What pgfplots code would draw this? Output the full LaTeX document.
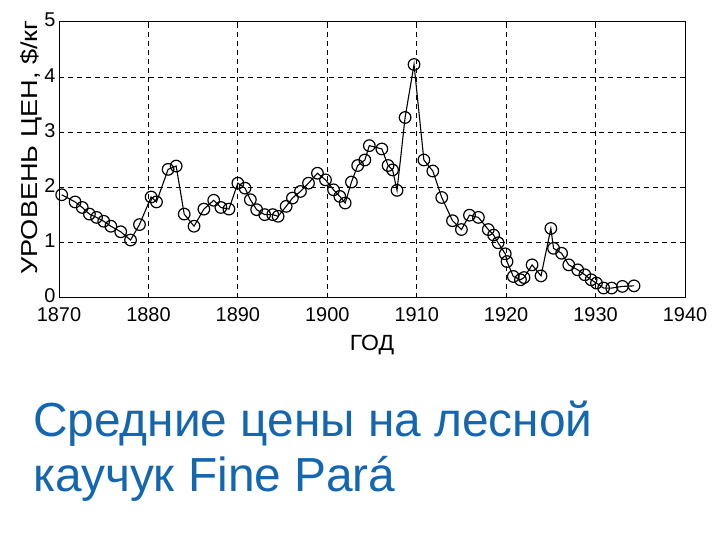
\documentclass[border=0pt]{standalone}
\usepackage{fontspec}
\setmainfont{Liberation Sans}
\usepackage{pgfplots}
\pgfplotsset{compat=1.18}
\definecolor{titleblue}{HTML}{1366B0}

\begin{document}
\begin{tikzpicture}[x=1bp,y=1bp]
\path[use as bounding box] (0,0) rectangle (720,540);
\begin{axis}[
  at={(59bp,242bp)}, anchor=south west,
  scale only axis, width=626bp, height=276bp,
  xmin=1870, xmax=1940, ymin=0, ymax=5,
  xtick={1870,1880,...,1940}, ytick={0,...,5},
  grid=major,
  major grid style={black, line width=1bp, dash pattern=on 5bp off 4bp},
  axis line style={black, line width=1bp},
  tick style={black, line width=1bp}, tick align=inside, major tick length=5bp,
  xticklabel style={/pgf/number format/1000 sep={}, yshift=-6bp},
  yticklabel style={yshift=2bp},
  /pgf/number format/assume math mode=true,
  ticklabel style={font=\fontsize{20}{20}\selectfont},
  xlabel={\scalebox{1.1}[1.05]{ГОД}},
  ylabel={\scalebox{1.3}[1.1]{УРОВЕНЬ ЦЕН, \$/кг}},
  label style={font=\fontsize{21}{21}\selectfont},
  xlabel style={at={(axis description cs:0.5,-0.19)}, anchor=base},
  ylabel style={at={(axis description cs:-0.034,0.545)}, anchor=base},
]
\addplot[black, line width=1.1bp, mark=o, mark size=5.8bp, mark options={solid, line width=1.2bp}] coordinates {
(1870.3,1.87) (1871.8,1.74) (1872.6,1.64) (1873.4,1.52) (1874.2,1.46)
(1875.0,1.39) (1875.8,1.30) (1876.9,1.20) (1878.0,1.05) (1879.0,1.33)
(1880.3,1.83) (1880.9,1.74) (1882.2,2.33) (1883.1,2.39) (1884.0,1.52)
(1885.1,1.30) (1886.2,1.61) (1887.3,1.77) (1888.1,1.64) (1889.0,1.61)
(1890.0,2.08) (1890.8,1.99) (1891.4,1.78) (1892.1,1.60) (1893.0,1.51)
(1893.9,1.51) (1894.5,1.48) (1895.4,1.66) (1896.1,1.81) (1897.0,1.93)
(1897.9,2.08) (1898.9,2.26) (1899.8,2.14) (1900.7,1.96) (1901.4,1.84)
(1902.0,1.72) (1902.7,2.10) (1903.4,2.40) (1904.2,2.50) (1904.7,2.76)
(1906.1,2.70) (1906.8,2.40) (1907.3,2.32) (1907.8,1.95) (1908.7,3.27)
(1909.7,4.23) (1910.8,2.50) (1911.8,2.30) (1912.8,1.82) (1914.0,1.40)
(1915.0,1.24) (1915.9,1.50) (1916.9,1.46) (1918.0,1.24) (1918.6,1.14)
(1919.1,1.00) (1919.9,0.80) (1920.1,0.66) (1920.8,0.39) (1921.6,0.33)
(1922.0,0.37) (1922.9,0.60) (1923.9,0.40) (1925.0,1.26) (1925.3,0.90)
(1926.2,0.81) (1927.0,0.60) (1928.0,0.51) (1928.8,0.42) (1929.5,0.33)
(1930.1,0.27) (1930.9,0.18) (1931.8,0.18) (1933.0,0.21) (1934.3,0.22)
};
\end{axis}
\node[anchor=base west, inner sep=0pt, font=\fontsize{48}{48}\selectfont, text=titleblue] at (33,103) {Средние цены на лесной};
\node[anchor=base west, inner sep=0pt, font=\fontsize{48}{48}\selectfont, text=titleblue] at (33,48) {каучук Fine Pará};
\end{tikzpicture}
\end{document}
